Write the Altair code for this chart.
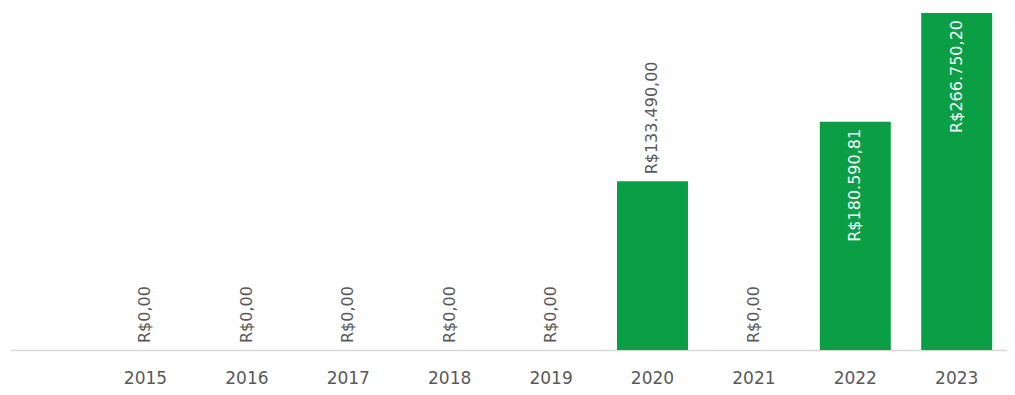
import altair as alt
import pandas as pd

years = ["2015", "2016", "2017", "2018", "2019", "2020", "2021", "2022", "2023"]
values = [0.0, 0.0, 0.0, 0.0, 0.0, 133490.00, 0.0, 180590.81, 266750.20]


def brl(v):
    s = f"{v:,.2f}"
    s = s.replace(",", "X").replace(".", ",").replace("X", ".")
    return "R$" + s


df = pd.DataFrame({"year": years, "value": values, "label": [brl(v) for v in values]})

GREEN = "#0A9E45"
GREY = "#595959"
FONT = "DejaVu Sans"

x = alt.X(
    "year:N",
    sort=years,
    title=None,
    scale=alt.Scale(paddingInner=0.3, paddingOuter=0.566, align=0.871),
    axis=alt.Axis(
        labelAngle=0,
        ticks=False,
        domainColor="#d9d9d9",
        domainWidth=1.5,
        labelColor=GREY,
        labelFont=FONT,
        labelFontSize=17,
        labelPadding=20,
        grid=False,
    ),
)
y = alt.Y(
    "value:Q",
    title=None,
    scale=alt.Scale(domain=[0, max(values)], nice=False),
    axis=None,
)

base = alt.Chart(df)

bars = base.mark_bar(color=GREEN).encode(x=x, y=y)

outside = base.transform_filter("datum.value < 150000").mark_text(
    angle=270, align="left", baseline="middle", dx=7, color=GREY, font=FONT, fontSize=16
).encode(x=x, y=y, text="label:N")

inside = base.transform_filter("datum.value >= 150000").mark_text(
    angle=270, align="right", baseline="middle", dx=-7, color="white", font=FONT, fontSize=16
).encode(x=x, y=y, text="label:N")

chart = (
    alt.layer(bars, outside, inside)
    .properties(
        width=997,
        height=337,
        autosize=alt.AutoSizeParams(type="none"),
        padding={"left": 2, "top": 5, "right": 0, "bottom": 37},
    )
    .configure_view(stroke=None)
)

chart.save("out.html", embed_options={"renderer": "svg", "actions": False})
